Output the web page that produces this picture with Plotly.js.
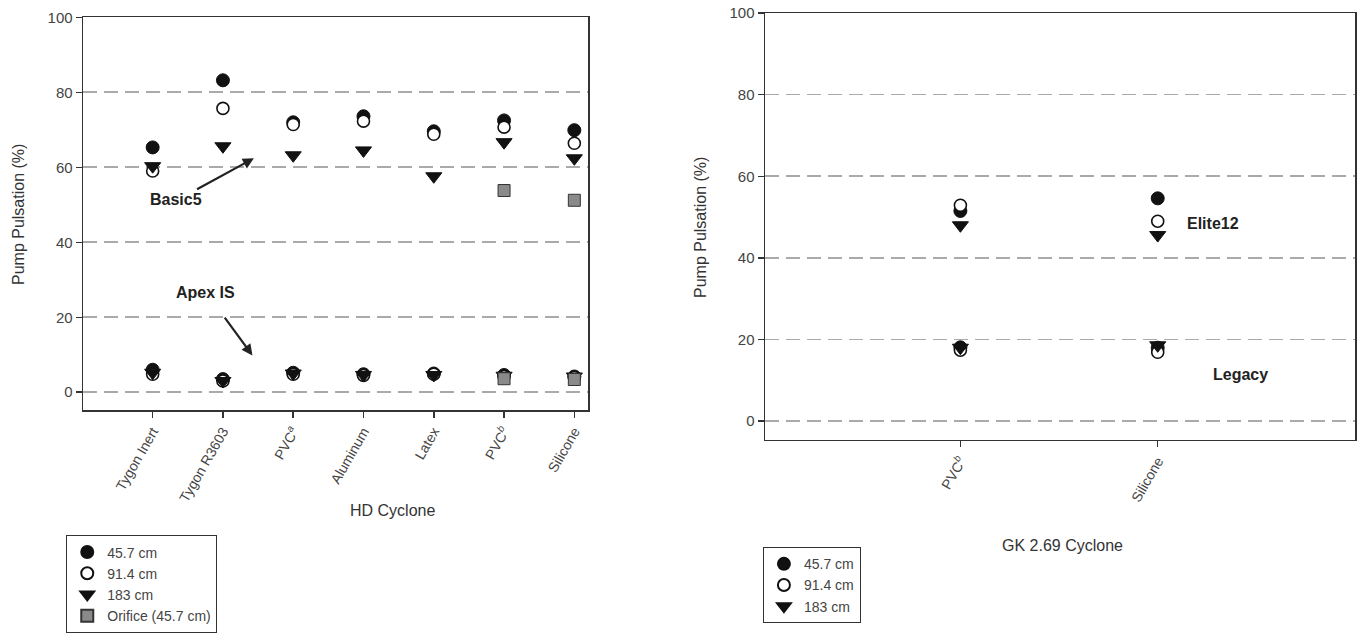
<!DOCTYPE html>
<html>
<head>
<meta charset="utf-8">
<script src="https://cdn.plot.ly/plotly-3.0.1.min.js"></script>
<style>html,body{margin:0;padding:0;background:#fff;}#chart{width:1362px;height:641px;}</style>
</head>
<body>
<div id="chart"></div>
<script>
// ---- HD Cyclone (left panel) ----
const hdCats = ["Tygon Inert", "Tygon R3603", "PVC<sup><i>a</i></sup>", "Aluminum", "Latex", "PVC<sup><i>b</i></sup>", "Silicone"];
const basic5_457 = [65.3, 83.2, 72.0, 73.6, 69.6, 72.5, 69.9];
const basic5_914 = [59.0, 75.7, 71.4, 72.3, 68.8, 70.7, 66.4];
const basic5_183 = [60.3, 65.6, 63.2, 64.5, 57.6, 66.7, 62.4];
const basic5_orifice = [null, null, null, null, null, 53.8, 51.2];
const apex_457 = [6.0, 3.5, 5.2, 4.8, 5.0, 4.6, 4.2];
const apex_914 = [4.8, 3.0, 4.8, 4.5, 4.8, 4.2, 4.0];
const apex_183 = [5.2, 3.0, 5.0, 4.6, 4.6, 4.4, 4.2];
const apex_orifice = [null, null, null, null, null, 3.6, 3.4];

// ---- GK 2.69 Cyclone (right panel) ----
const gkCats = ["PVC<sup><i>b</i></sup>", "Silicone"];
const elite12_457 = [51.5, 54.6];
const elite12_914 = [52.9, 49.0];
const elite12_183 = [48.0, 45.6];
const legacy_457 = [18.1, 18.0];
const legacy_914 = [17.4, 16.9];
const legacy_183 = [18.0, 18.6];

const seriesNames = ["45.7 cm", "91.4 cm", "183 cm", "Orifice (45.7 cm)"];
const yTicks = [0, 20, 40, 60, 80, 100];

const fnt = "Liberation Sans, Arial, sans-serif";
const filled = {symbol: "circle", size: 13, color: "#111", line: {color: "#111", width: 1}};
const open = {symbol: "circle", size: 12, color: "#fff", line: {color: "#111", width: 1.6}};
const tri = {symbol: "triangle-down", size: 14, color: "#111", line: {color: "#111", width: 1}};
const sq = {symbol: "square", size: 12, color: "#8a8a8a", line: {color: "#333", width: 1}};

function tr(xa, ya, xs, ys, name, marker, legend, show) {
  return {type: "scatter", mode: "markers", x: xs, y: ys, name: name, marker: marker,
    xaxis: xa, yaxis: ya, legend: legend, showlegend: show, cliponaxis: false};
}

const data = [
  tr("x", "y", hdCats.concat(hdCats), basic5_457.concat(apex_457), seriesNames[0], filled, "legend", true),
  tr("x", "y", hdCats.concat(hdCats), basic5_914.concat(apex_914), seriesNames[1], open, "legend", true),
  tr("x", "y", hdCats.concat(hdCats), basic5_183.concat(apex_183), seriesNames[2], tri, "legend", true),
  tr("x", "y", hdCats.concat(hdCats), basic5_orifice.concat(apex_orifice), seriesNames[3], sq, "legend", true),
  tr("x2", "y2", gkCats.concat(gkCats), elite12_457.concat(legacy_457), seriesNames[0], filled, "legend2", true),
  tr("x2", "y2", gkCats.concat(gkCats), elite12_914.concat(legacy_914), seriesNames[1], open, "legend2", true),
  tr("x2", "y2", gkCats.concat(gkCats), elite12_183.concat(legacy_183), seriesNames[2], tri, "legend2", true)
];

function yax(domain, range, anchor) {
  return {domain: domain, range: range, anchor: anchor, tickvals: yTicks, ticks: "outside", ticklen: 6, tickwidth: 1.5,
    tickcolor: "#333", showline: true, linecolor: "#333", linewidth: 1.5, mirror: true,
    showgrid: true, gridcolor: "#aaa", gridwidth: 1.6, griddash: "14px,7px", zeroline: false,
    tickfont: {family: fnt, size: 15, color: "#444"}, fixedrange: true};
}
function xax(domain, range, cats, anchor) {
  return {domain: domain, anchor: anchor, type: "category", categoryarray: cats, range: range, tickangle: -60,
    ticks: "outside", ticklen: 6, tickwidth: 1.5, tickcolor: "#333", showline: true, linecolor: "#333",
    linewidth: 1.5, mirror: true, showgrid: false, zeroline: false,
    tickfont: {family: fnt, size: 14, color: "#444"}, fixedrange: true};
}

const layout = {
  width: 1362, height: 641,
  margin: {l: 0, r: 0, t: 0, b: 0},
  paper_bgcolor: "#fff", plot_bgcolor: "#fff",
  font: {family: fnt, color: "#333"},
  xaxis: xax([0.061, 0.432], [-0.99, 6.2], hdCats, "y"),
  yaxis: yax([0.360, 0.973], [-4.8, 100], "x"),
  xaxis2: xax([0.5617, 0.9949], [-0.99, 2.0], gkCats, "y2"),
  yaxis2: yax([0.3136, 0.9797], [-4.6, 100], "x2"),
  legend: {x: 0.0485, y: 0.165, xanchor: "left", yanchor: "top", bordercolor: "#333", borderwidth: 1.2,
    bgcolor: "#fff", font: {family: fnt, size: 14, color: "#444"}, tracegroupgap: 0, itemsizing: "constant",
    entrywidth: 170},
  legend2: {x: 0.560, y: 0.1466, xanchor: "left", yanchor: "top", bordercolor: "#333", borderwidth: 1.2,
    bgcolor: "#fff", font: {family: fnt, size: 14, color: "#444"}, tracegroupgap: 0, itemsizing: "constant",
    entrywidth: 100},
  annotations: [
    {xref: "paper", yref: "paper", x: 392 / 1362, y: 1 - 511 / 641, text: "HD Cyclone", showarrow: false,
      font: {family: fnt, size: 16, color: "#333"}, xanchor: "center", yanchor: "middle"},
    {xref: "paper", yref: "paper", x: 1062 / 1362, y: 1 - 545 / 641, text: "GK 2.69 Cyclone", showarrow: false,
      font: {family: fnt, size: 16, color: "#333"}, xanchor: "center", yanchor: "middle"},
    {xref: "paper", yref: "paper", x: 18 / 1362, y: 1 - 215 / 641, text: "Pump Pulsation (%)", textangle: -90,
      showarrow: false, font: {family: fnt, size: 16, color: "#333"}, xanchor: "center", yanchor: "middle"},
    {xref: "paper", yref: "paper", x: 700 / 1362, y: 1 - 228 / 641, text: "Pump Pulsation (%)", textangle: -90,
      showarrow: false, font: {family: fnt, size: 16, color: "#333"}, xanchor: "center", yanchor: "middle"},
    {xref: "x", yref: "y", x: 1.44, y: 62.4, axref: "x", ayref: "y", ax: 0.61, ay: 53.9, text: "",
      showarrow: true, arrowhead: 2, arrowsize: 1, arrowwidth: 2.2, arrowcolor: "#222"},
    {xref: "x", yref: "y", x: 0.33, y: 51.5, text: "<b>Basic5</b>", showarrow: false,
      font: {family: fnt, size: 16, color: "#222"}},
    {xref: "x", yref: "y", x: 1.42, y: 9.8, axref: "x", ayref: "y", ax: 1.01, ay: 20.3, text: "",
      showarrow: true, arrowhead: 2, arrowsize: 1, arrowwidth: 2.2, arrowcolor: "#222"},
    {xref: "x", yref: "y", x: 0.75, y: 26.7, text: "<b>Apex IS</b>", showarrow: false,
      font: {family: fnt, size: 16, color: "#222"}},
    {xref: "x2", yref: "y2", x: 1.14, y: 48.5, text: "<b>Elite12</b>", showarrow: false, xanchor: "left",
      font: {family: fnt, size: 16, color: "#222"}},
    {xref: "x2", yref: "y2", x: 1.27, y: 11.4, text: "<b>Legacy</b>", showarrow: false, xanchor: "left",
      font: {family: fnt, size: 16, color: "#222"}}
  ]
};

Plotly.newPlot("chart", data, layout, {displayModeBar: false, staticPlot: true});
</script>
</body>
</html>
